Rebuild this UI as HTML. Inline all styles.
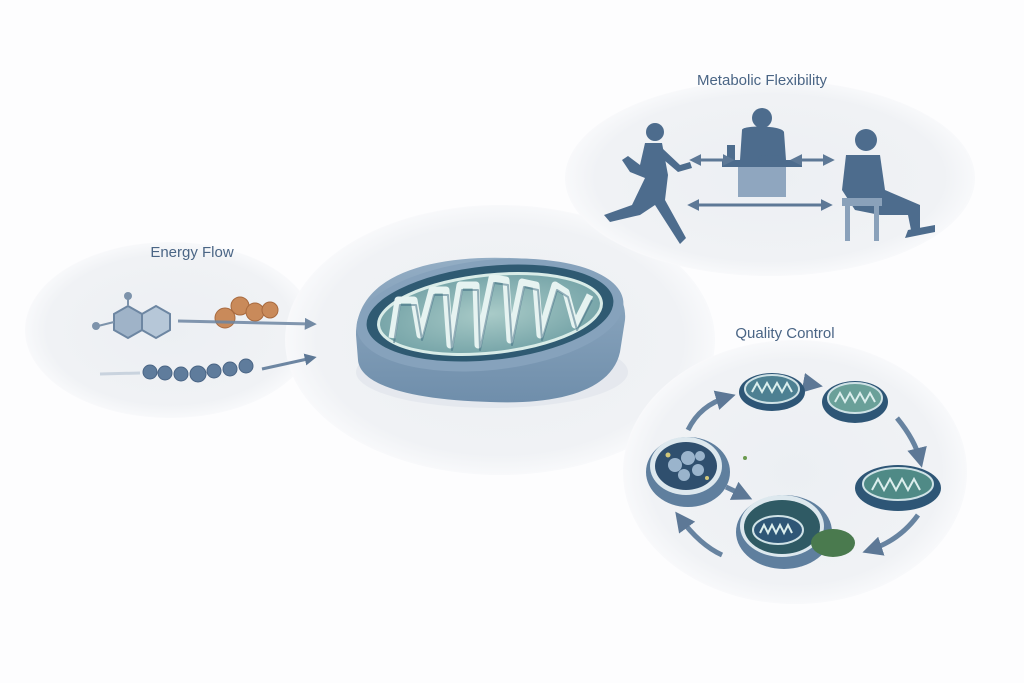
<!DOCTYPE html>
<html><head><style>
html,body{margin:0;padding:0;background:#fdfdfe;}
svg{display:block;}
text{font-family:"Liberation Sans",sans-serif;fill:#4a6585;}
</style></head><body>
<svg width="1024" height="683" viewBox="0 0 1024 683" xmlns="http://www.w3.org/2000/svg">
<defs>
<radialGradient id="bg" cx="50%" cy="50%" r="50%">
<stop offset="0" stop-color="#eceff3"/><stop offset="0.85" stop-color="#f0f2f5"/><stop offset="1" stop-color="#f8f9fb"/>
</radialGradient>
<linearGradient id="side" x1="0" y1="0" x2="0" y2="1">
<stop offset="0" stop-color="#93adc4"/><stop offset="1" stop-color="#6f8eab"/>
</linearGradient>
<radialGradient id="matrix" cx="50%" cy="50%" r="60%">
<stop offset="0" stop-color="#a9cbc8"/><stop offset="1" stop-color="#6e9ea3"/>
</radialGradient>
<marker id="ah" viewBox="0 0 10 10" refX="6" refY="5" markerWidth="4" markerHeight="4" orient="auto-start-reverse">
<path d="M0,0 L10,5 L0,10 z" fill="#5d7896"/>
</marker>
</defs>
<rect width="1024" height="683" fill="#fdfdfe"/>
<ellipse cx="170" cy="330" rx="145" ry="88" fill="url(#bg)"/>
<ellipse cx="500" cy="340" rx="215" ry="135" fill="url(#bg)"/>
<ellipse cx="770" cy="178" rx="205" ry="98" fill="url(#bg)"/>
<ellipse cx="795" cy="472" rx="172" ry="132" fill="url(#bg)"/>

<text x="192" y="257" font-size="15" text-anchor="middle">Energy Flow</text>
<text x="762" y="85" font-size="15" text-anchor="middle">Metabolic Flexibility</text>
<text x="785" y="338" font-size="15" text-anchor="middle">Quality Control</text>

<g stroke="#7d93ab" stroke-width="2" fill="#aebfd1">
<polygon points="128,306 142,314 142,330 128,338 114,330 114,314" fill="#9fb3c8" stroke="#6d86a2"/>
<polygon points="142,314 156,306 170,314 170,330 156,338 142,330" fill="#b6c7d8" stroke="#6d86a2"/>
<line x1="128" y1="306" x2="128" y2="296"/><line x1="114" y1="322" x2="98" y2="326"/>
</g>
<circle cx="128" cy="296" r="4" fill="#7d93ab"/><circle cx="96" cy="326" r="4" fill="#7d93ab"/>
<g fill="#c98a5a" stroke="#a86a3f">
<circle cx="225" cy="318" r="10"/><circle cx="240" cy="306" r="9"/><circle cx="255" cy="312" r="9"/><circle cx="270" cy="310" r="8"/>
</g>
<line x1="178" y1="321" x2="312" y2="324" stroke="#6d86a2" stroke-width="3" marker-end="url(#ah)" opacity="0.85"/>
<g fill="#5f7c9c" stroke="#4a6585">
<circle cx="150" cy="372" r="7"/><circle cx="165" cy="373" r="7"/><circle cx="181" cy="374" r="7"/><circle cx="198" cy="374" r="8"/><circle cx="214" cy="371" r="7"/><circle cx="230" cy="369" r="7"/><circle cx="246" cy="366" r="7"/>
</g>
<line x1="100" y1="374" x2="140" y2="373" stroke="#c9d3de" stroke-width="3"/>
<line x1="262" y1="369" x2="312" y2="358" stroke="#6d86a2" stroke-width="3" marker-end="url(#ah)"/>

<!-- mitochondrion -->
<ellipse cx="492" cy="372" rx="136" ry="36" fill="#dde3ea" opacity="0.6"/>
<path d="M356,335 C356,275 430,255 510,258 C590,260 628,285 625,320 L620,352 C612,390 560,405 490,402 C410,400 360,385 358,360 Z" fill="url(#side)"/>
<ellipse cx="490" cy="315" rx="134" ry="55" fill="#86a2bc" transform="rotate(-6 490 315)"/>
<ellipse cx="490" cy="313" rx="124" ry="47" fill="#2f5a72" transform="rotate(-6 490 313)"/>
<ellipse cx="490" cy="314" rx="112" ry="39" fill="url(#matrix)" stroke="#d9ece8" stroke-width="3" transform="rotate(-6 490 314)"/>
<path d="M392,338 L398,300 L414,300 L420,335 L432,290 L446,290 L450,345 L460,285 L476,285 L478,345 L492,278 L506,280 L510,340 L522,282 L536,285 L540,335 L555,285 L566,292 L575,325 L590,295" fill="none" stroke="#e6f3f1" stroke-width="7" stroke-linejoin="round"/>
<path d="M392,338 L398,300 L414,300 L420,335 L432,290 L446,290 L450,345 L460,285 L476,285 L478,345 L492,278 L506,280 L510,340 L522,282 L536,285 L540,335 L555,285 L566,292 L575,325 L590,295" fill="none" stroke="#3e6a80" stroke-width="2" stroke-linejoin="round" transform="translate(2,5)" opacity="0.5"/>

<g fill="#4d6c8d">
<circle cx="655" cy="132" r="9"/>
<path d="M645,143 L662,143 L668,175 L665,200 L686,238 L680,244 L655,205 L640,215 L610,222 L604,215 L632,205 L645,178 L630,172 L622,160 L628,156 L640,165 Z"/>
<path d="M662,148 L680,165 L690,162 L692,168 L678,172 L664,160 Z"/>
<circle cx="762" cy="118" r="10"/>
<path d="M742,130 C742,125 782,125 784,132 L786,160 L740,160 Z"/>
<rect x="722" y="160" width="80" height="7"/>
<rect x="738" y="167" width="48" height="30" fill="#8fa6bf"/>
<rect x="727" y="145" width="8" height="15"/><ellipse cx="770" cy="158" rx="12" ry="3"/>
<circle cx="866" cy="140" r="11"/>
<path d="M846,155 L880,155 L885,190 L920,205 L920,235 L912,235 L908,215 L880,215 L855,210 L842,190 Z"/>
<path d="M908,230 L935,225 L935,232 L905,238 Z"/>
<rect x="842" y="198" width="40" height="8" fill="#8aa1ba"/>
<rect x="845" y="206" width="5" height="35" fill="#8aa1ba"/><rect x="874" y="206" width="5" height="35" fill="#8aa1ba"/>
</g>
<line x1="694" y1="160" x2="730" y2="160" stroke="#5d7896" stroke-width="3" marker-start="url(#ah)" marker-end="url(#ah)"/>
<line x1="795" y1="160" x2="830" y2="160" stroke="#5d7896" stroke-width="3" marker-start="url(#ah)" marker-end="url(#ah)"/>
<line x1="692" y1="205" x2="828" y2="205" stroke="#5d7896" stroke-width="3" marker-start="url(#ah)" marker-end="url(#ah)"/>

<g fill="none" stroke="#6783a0" stroke-width="5" marker-end="url(#ah)">
<path d="M688,430 Q700,405 728,397"/>
<path d="M804,383 L815,385"/>
<path d="M897,418 Q915,440 920,460"/>
<path d="M918,515 Q900,540 870,550"/>
<path d="M722,555 Q700,545 680,518"/>
<path d="M726,487 L745,496"/>
</g>
<g>
<ellipse cx="772" cy="392" rx="33" ry="19" fill="#2e5676"/>
<ellipse cx="772" cy="389" rx="27" ry="14" fill="#4d8092" stroke="#cfe2e6" stroke-width="2"/>
<path d="M752,392 l5,-9 l5,9 l5,-9 l5,9 l5,-9 l5,9 l5,-9 l5,9" stroke="#dbeeed" stroke-width="2" fill="none"/>
<ellipse cx="855" cy="402" rx="33" ry="21" fill="#2e5676"/>
<ellipse cx="855" cy="398" rx="27" ry="15" fill="#6aa099" stroke="#cfe2e6" stroke-width="2"/>
<path d="M835,402 l5,-9 l5,9 l5,-9 l5,9 l5,-9 l5,9 l5,-9 l5,9" stroke="#dbeeed" stroke-width="2" fill="none"/>
<ellipse cx="898" cy="488" rx="43" ry="23" fill="#2e5676"/>
<ellipse cx="898" cy="484" rx="35" ry="16" fill="#4f8a86" stroke="#cfe2e6" stroke-width="2"/>
<path d="M872,490 l6,-11 l6,11 l6,-11 l6,11 l6,-11 l6,11 l6,-11 l6,11" stroke="#dbeeed" stroke-width="2" fill="none"/>
<ellipse cx="688" cy="472" rx="42" ry="35" fill="#5f7f9e"/>
<ellipse cx="686" cy="466" rx="36" ry="29" fill="#dde8ee"/>
<ellipse cx="686" cy="466" rx="31" ry="24" fill="#2f4f6e"/>
<g fill="#9ab4cc"><circle cx="675" cy="465" r="7"/><circle cx="688" cy="458" r="7"/><circle cx="698" cy="470" r="6"/><circle cx="684" cy="475" r="6"/><circle cx="700" cy="456" r="5"/></g>
<circle cx="668" cy="455" r="2.5" fill="#d1c77a"/><circle cx="707" cy="478" r="2" fill="#d1c77a"/>
<circle cx="745" cy="458" r="2" fill="#6b9a4e"/>
<ellipse cx="784" cy="532" rx="48" ry="37" fill="#5f7f9e"/>
<ellipse cx="782" cy="526" rx="42" ry="31" fill="#dde8ee"/>
<ellipse cx="782" cy="527" rx="38" ry="27" fill="#2f5a64"/>
<ellipse cx="778" cy="530" rx="25" ry="14" fill="#2e5676" stroke="#cfe2e6" stroke-width="2"/>
<path d="M760,533 l4,-8 l4,8 l4,-8 l4,8 l4,-8 l4,8 l4,-8 l4,8" stroke="#dbeeed" stroke-width="2" fill="none"/>
<ellipse cx="833" cy="543" rx="22" ry="14" fill="#4a7a4e"/>
</g>
</svg>
</body></html>
